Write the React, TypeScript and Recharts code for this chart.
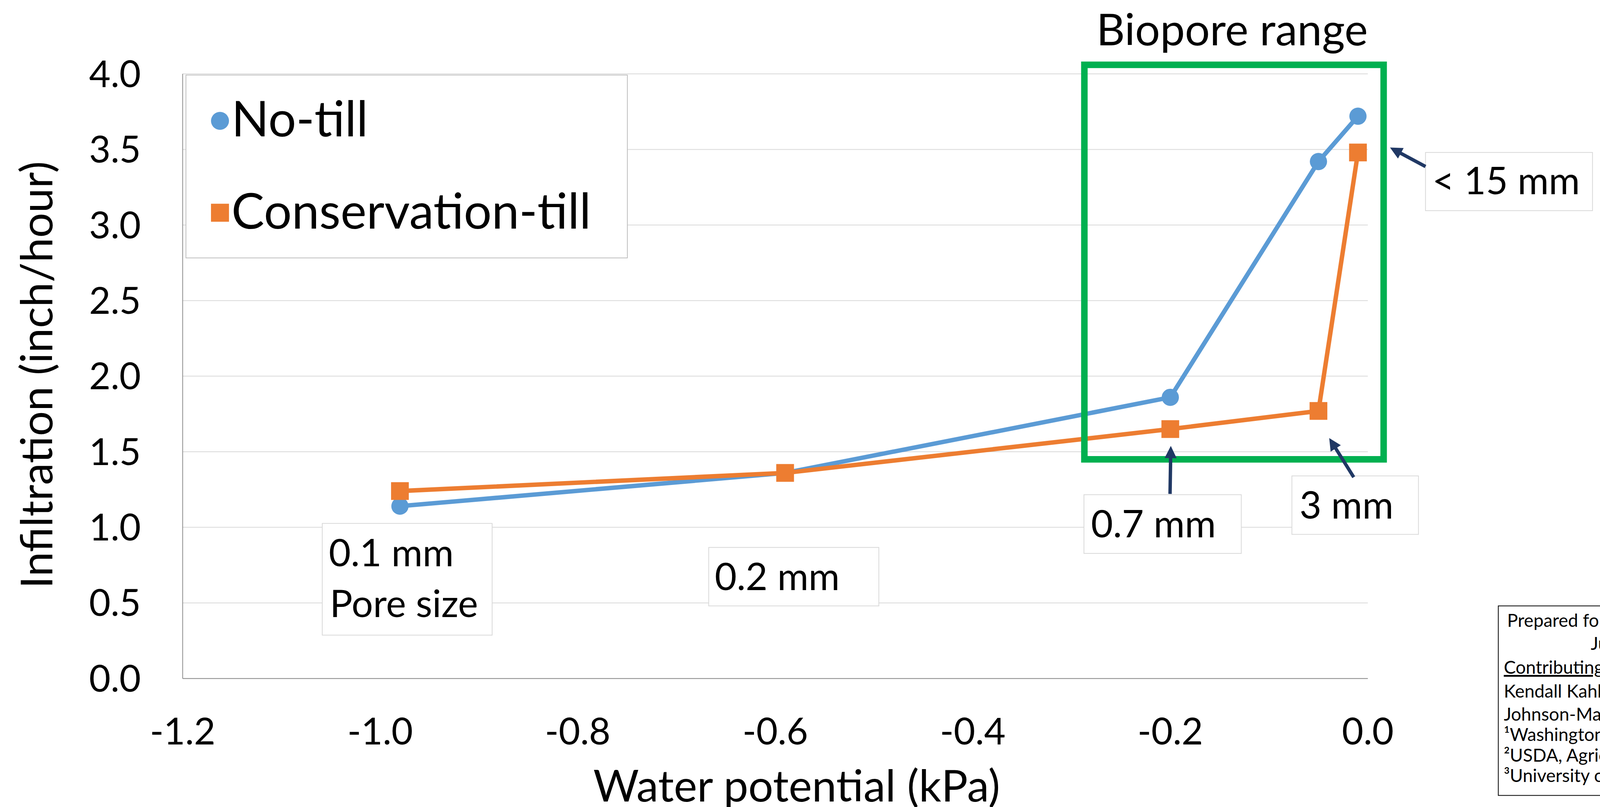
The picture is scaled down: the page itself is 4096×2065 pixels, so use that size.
import React from 'react';
import { LineChart, Line, XAxis, YAxis, CartesianGrid, Legend, ReferenceArea } from 'recharts';

// water potential (kPa) of each pressure step, shared by both series
const waterPotential = [-0.98, -0.59, -0.2, -0.05, -0.01];
const noTill = [1.14, 1.36, 1.86, 3.42, 3.72];
const conservationTill = [1.24, 1.36, 1.65, 1.77, 3.48];

const xTicks = [-1.2, -1.0, -0.8, -0.6, -0.4, -0.2, 0.0];
const yTicks = [0, 0.5, 1.0, 1.5, 2.0, 2.5, 3.0, 3.5, 4.0];

// "Biopore range" box, in axis units
const bioporeX = [-0.287, 0.016];
const bioporeY = [1.45, 4.06];

const seriesList = [
  { key: 'noTill', name: 'No-till', color: '#5B9BD5', shape: 'circle' },
  { key: 'consTill', name: 'Conservation-till', color: '#ED7D31', shape: 'square' },
];

const data = waterPotential.map((x, i) => ({
  x,
  noTill: noTill[i],
  consTill: conservationTill[i],
}));

const W = 4096;
const H = 2065;
const S = 0.668; // reference px -> window px
const k = (v: number) => v * S;
const FONT = 'Lato, "Open Sans", sans-serif';
const ARROW = '#203864';

const CircleDot = (props: any) => {
  const { cx, cy, index } = props;
  if (cx == null || cy == null) return null;
  return <circle key={`nt-${index}`} cx={cx} cy={cy} r={k(33)} fill="#5B9BD5" />;
};

const SquareDot = (props: any) => {
  const { cx, cy, index } = props;
  if (cx == null || cy == null) return null;
  const s = k(68);
  return <rect key={`ct-${index}`} x={cx - s / 2} y={cy - s / 2} width={s} height={s} fill="#ED7D31" />;
};

const legendBox = { left: k(711), top: k(286), width: k(2405 - 711), height: k(990 - 286) };

const renderLegend = () => (
  <div
    style={{
      width: legendBox.width,
      height: legendBox.height,
      background: '#fff',
      border: '2px solid #BFBFBF',
      boxSizing: 'border-box',
      position: 'relative',
    }}
  >
    <svg width={legendBox.width} height={legendBox.height} style={{ position: 'absolute', left: -2, top: -2 }}>
      {seriesList.map((s, i) => {
        const cy = k(i === 0 ? 463 : 815) - legendBox.top;
        const cx = k(843) - legendBox.left;
        const m = k(69);
        return (
          <g key={s.key}>
            {s.shape === 'circle' ? (
              <circle cx={cx} cy={cy} r={m / 2} fill={s.color} />
            ) : (
              <rect x={cx - m / 2} y={cy - m / 2} width={m} height={m} fill={s.color} />
            )}
            <text
              x={k(887) - legendBox.left}
              y={k(i === 0 ? 523 : 876) - legendBox.top}
              fontFamily={FONT}
              fontSize={126}
              fill="#000"
            >
              {s.name}
            </text>
          </g>
        );
      })}
    </svg>
  </div>
);

// label boxes: [x0, y0, x1, y1] and text lines [x, baseline, text] in reference px
const labelBoxes = [
  { box: [1235, 2005, 1886, 2433], lines: [[1260, 2169, '0.1 mm'], [1264, 2364, 'Pore size']] },
  { box: [2716, 2097, 3368, 2321], lines: [[2739, 2261, '0.2 mm']] },
  { box: [4154, 1895, 4757, 2120], lines: [[4181, 2058, '0.7 mm']] },
  { box: [4951, 1823, 5436, 2047], lines: [[4980, 1987, '3 mm']] },
  { box: [5463, 584, 6103, 807], lines: [[5489, 744, '< 15 mm']] },
];

// arrows: tail -> tip, reference px
const arrows = [
  [4484, 1892, 4487, 1708],
  [5188, 1828, 5094, 1678],
  [5463, 638, 5327, 565],
];

const Arrow = ({ a }: { a: number[] }) => {
  const [x0, y0, x1, y1] = a.map(k);
  const dx = x1 - x0;
  const dy = y1 - y0;
  const len = Math.hypot(dx, dy);
  const ux = dx / len;
  const uy = dy / len;
  const hl = k(47);
  const hw = k(23);
  const bx = x1 - ux * hl;
  const by = y1 - uy * hl;
  return (
    <g>
      <line x1={x0} y1={y0} x2={bx + ux * 2} y2={by + uy * 2} stroke={ARROW} strokeWidth={k(13)} />
      <polygon
        points={`${x1},${y1} ${bx - uy * hw},${by + ux * hw} ${bx + uy * hw},${by - ux * hw}`}
        fill={ARROW}
      />
    </g>
  );
};

const creditLines: [number, number, string, boolean][] = [
  [5776, 2401, 'Prepared fo', false],
  [6096, 2490, 'Ju', false],
  [5763, 2581, 'Contributing', true],
  [5763, 2672, 'Kendall Kahl', false],
  [5763, 2760, 'Johnson-Ma', false],
  [5763, 2839, '\u00B9Washington S', false],
  [5763, 2918, '\u00B2USDA, Agricu', false],
  [5763, 2995, '\u00B3University of', false],
];

export default function App() {
  const fmt = (v: number) => v.toFixed(1);
  return (
    <div
      style={{
        position: 'absolute',
        left: 0,
        top: 0,
        width: W,
        height: H,
        overflow: 'hidden',
        background: '#fff',
        fontFamily: FONT,
      }}
    >
      <LineChart
        width={W}
        height={H}
        data={data}
        margin={{ top: k(283), right: W - k(5242), bottom: 9, left: 0 }}
      >
        <CartesianGrid vertical={false} stroke="#D9D9D9" strokeWidth={2} />
        <XAxis
          type="number"
          dataKey="x"
          domain={[-1.2, 0]}
          ticks={xTicks}
          tickFormatter={fmt}
          height={H - k(2599) - 9}
          axisLine={{ stroke: '#8C8C8C', strokeWidth: 2 }}
          tickLine={false}
          tickSize={0}
          tickMargin={k(2751) - k(2599)}
          tick={{ fill: '#000', fontSize: 95, fontFamily: FONT }}
          interval={0}
        />
        <YAxis
          type="number"
          domain={[0, 4]}
          ticks={yTicks}
          tickFormatter={fmt}
          width={k(700)}
          axisLine={{ stroke: '#8C8C8C', strokeWidth: 2 }}
          tickLine={false}
          tickSize={0}
          tickMargin={k(700) - k(540)}
          tick={{ fill: '#000', fontSize: 95, fontFamily: FONT }}
          interval={0}
        />
        <Legend
          layout="vertical"
          align="center"
          verticalAlign="middle"
          content={renderLegend}
          wrapperStyle={{
            position: 'absolute',
            left: legendBox.left,
            top: legendBox.top,
            width: legendBox.width,
            height: legendBox.height,
          }}
        />
        <Line
          type="linear"
          dataKey="noTill"
          name="No-till"
          stroke="#5B9BD5"
          strokeWidth={k(17)}
          dot={CircleDot}
          activeDot={false}
          isAnimationActive={false}
        />
        <Line
          type="linear"
          dataKey="consTill"
          name="Conservation-till"
          stroke="#ED7D31"
          strokeWidth={k(17)}
          dot={SquareDot}
          activeDot={false}
          isAnimationActive={false}
        />
        <ReferenceArea
          x1={bioporeX[0]}
          x2={bioporeX[1]}
          y1={bioporeY[0]}
          y2={bioporeY[1]}
          ifOverflow="visible"
          fill="none"
          fillOpacity={0}
          stroke="#00B050"
          strokeWidth={k(25)}
          zIndex={1500}
        />
      </LineChart>

      <svg
        width={W}
        height={H}
        style={{ position: 'absolute', left: 0, top: 0, pointerEvents: 'none' }}
        fontFamily={FONT}
      >
        <text x={k(4722)} y={k(173)} textAnchor="middle" fontSize={113} fill="#000">
          Biopore range
        </text>
        <text
          transform={`translate(${k(201)}, ${k(1436)}) rotate(-90)`}
          textAnchor="middle"
          fontSize={113}
          fill="#000"
        >
          Infiltration (inch/hour)
        </text>
        <text x={k(3053)} y={k(3070)} textAnchor="middle" fontSize={113} fill="#000">
          Water potential (kPa)
        </text>

        {labelBoxes.map((b, i) => (
          <g key={i}>
            <rect
              x={k(b.box[0])}
              y={k(b.box[1])}
              width={k(b.box[2] - b.box[0])}
              height={k(b.box[3] - b.box[1])}
              fill="#fff"
              stroke="#D9D9D9"
              strokeWidth={2}
            />
            {b.lines.map((l, j) => (
              <text key={j} x={k(l[0] as number)} y={k(l[1] as number)} fontSize={97} fill="#000">
                {l[2]}
              </text>
            ))}
          </g>
        ))}

        {arrows.map((a, i) => (
          <Arrow key={i} a={a} />
        ))}

        <rect
          x={k(5742)}
          y={k(2321)}
          width={W}
          height={k(3047 - 2321)}
          fill="#fff"
          stroke="#000"
          strokeWidth={2}
        />
        {creditLines.map(([x, y, t, u], i) => (
          <text key={i} x={k(x)} y={k(y)} fontSize={46} fill="#000" textDecoration={u ? 'underline' : undefined}>
            {t}
          </text>
        ))}
      </svg>
    </div>
  );
}
